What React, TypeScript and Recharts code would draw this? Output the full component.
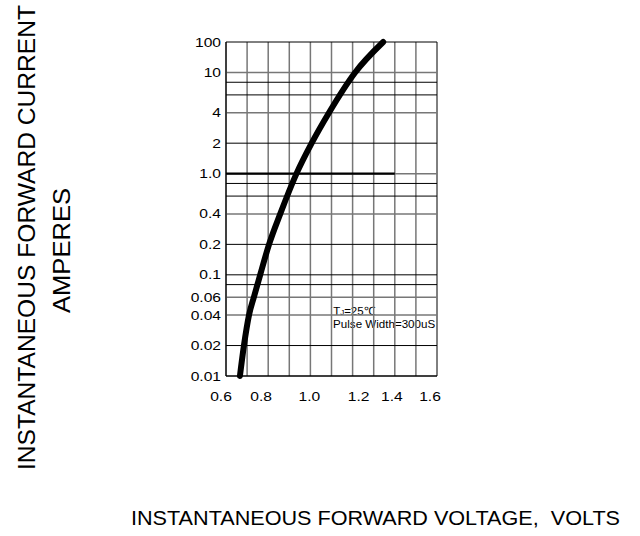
import React from 'react';
import { LineChart, Line, XAxis, YAxis, ReferenceLine, ReferenceArea } from 'recharts';

// Forward characteristic (V, A)
const voltage = [0.666, 0.685, 0.709, 0.732, 0.762, 0.804, 0.857, 0.934, 1.006, 1.088, 1.212, 1.345];
const current = [0.01, 0.02, 0.04, 0.06, 0.1, 0.2, 0.4, 1, 2, 4, 10, 20];

const xTicks = [0.6, 0.8, 1.0, 1.2, 1.4, 1.6];
const xGrid = [0.6, 0.7, 0.8, 0.9, 1.0, 1.1, 1.2, 1.3, 1.4, 1.5, 1.6];
const yTicks = [0.01, 0.02, 0.04, 0.06, 0.1, 0.2, 0.4, 1, 2, 4, 10, 20];
const yTickLabels = ['0.01', '0.02', '0.04', '0.06', '0.1', '0.2', '0.4', '1.0', '2', '4', '10', '100'];
const yGrid = [0.01, 0.02, 0.04, 0.06, 0.08, 0.1, 0.2, 0.4, 0.6, 0.8, 1, 2, 4, 6, 8, 10, 20];
const yGridGray = [10, 4, 1, 0.4, 0.06, 0.04];

const data = voltage.map((v, i) => ({ v, i: current[i] }));

const FONT = 'Liberation Sans, Arial, sans-serif';

// small visual nudges of the x tick labels as printed in the original sheet
const xLabelNudge: Record<string, number> = { '0.6': -5, '0.8': -7, '1.0': -1, '1.2': 6, '1.4': -3, '1.6': -7 };

const XTick = (props: any) => {
  const { x, y, payload } = props;
  const label = Number(payload.value).toFixed(1);
  return (
    <text
      transform={`translate(${x + (xLabelNudge[label] || 0)},${y}) scale(1.25,1)`}
      dy="0.71em"
      textAnchor="middle"
      fontFamily={FONT}
      fontSize={12.5}
      fill="#000"
    >
      {label}
    </text>
  );
};

const YTick = (props: any) => {
  const { x, y, payload } = props;
  const idx = yTicks.indexOf(payload.value);
  const label = idx >= 0 ? yTickLabels[idx] : String(payload.value);
  return (
    <text
      transform={`translate(${x},${y}) scale(1.25,1)`}
      dy="0.36em"
      textAnchor="end"
      fontFamily={FONT}
      fontSize={12.5}
      fill="#000"
    >
      {label}
    </text>
  );
};

const renderBoxText = (props: any) => {
  const vb = props.viewBox || {};
  return (
    <g>
      <text x={vb.x + 1} y={vb.y + 10} fontFamily={FONT} fontSize={11.5} fill="#000">
        <tspan>T</tspan>
        <tspan fontSize={8}>J</tspan>
        <tspan>=25℃</tspan>
      </text>
      <text x={vb.x + 1} y={vb.y + 23} fontFamily={FONT} fontSize={11.5} fill="#000" textLength={102} lengthAdjust="spacingAndGlyphs">
        Pulse Width=300uS
      </text>
    </g>
  );
};

export default function App() {
  return (
    <div style={{ position: 'absolute', left: 0, top: 0, width: 640, height: 536, background: '#fff' }}>
      <LineChart width={640} height={536} data={data} margin={{ top: 42, right: 203, bottom: 130, left: 166 }}>
        <XAxis
          type="number"
          dataKey="v"
          domain={[0.6, 1.6]}
          ticks={xTicks}
          interval={0}
          tickLine={false}
          tickSize={0}
          tickMargin={16}
          height={30}
          axisLine={{ stroke: '#000', strokeWidth: 1 }}
          tick={<XTick />}
        />
        <YAxis
          type="number"
          dataKey="i"
          scale="log"
          domain={[0.01, 20]}
          ticks={yTicks}
          interval={0}
          width={60}
          tickLine={false}
          tickSize={0}
          tickMargin={5}
          axisLine={{ stroke: '#000', strokeWidth: 1 }}
          tick={<YTick />}
        />
        {xGrid.map((v) => (
          <ReferenceLine key={'vx' + v} x={v} stroke={v === 0.6 || v === 1.6 ? '#000' : '#777'} strokeWidth={v === 0.6 || v === 1.6 ? 1 : 1.5} />
        ))}
        {yGrid.map((v) => (
          <ReferenceLine key={'hy' + v} y={v} stroke={yGridGray.includes(v) ? '#777' : '#000'} strokeWidth={yGridGray.includes(v) ? 1.5 : 1} />
        ))}
        <ReferenceLine segment={[{ x: 0.6, y: 1 }, { x: 1.4, y: 1 }]} stroke="#000" strokeWidth={2.2} />
        <ReferenceArea x1={1.103} x2={1.597} y1={0.021} y2={0.05} fill="#fff" fillOpacity={1} stroke="none" label={renderBoxText} />
        <Line
          type="monotone"
          dataKey="i"
          stroke="#000"
          strokeWidth={6}
          strokeLinecap="round"
          dot={false}
          activeDot={false}
          isAnimationActive={false}
        />
      </LineChart>
      <svg width={640} height={536} style={{ position: 'absolute', left: 0, top: 0, pointerEvents: 'none' }}>
        <text
          x={375.5}
          y={525}
          textAnchor="middle"
          fontFamily={FONT}
          fontSize={21}
          fill="#000"
          textLength={489}
          lengthAdjust="spacingAndGlyphs"
          style={{ whiteSpace: 'pre' }}
        >
          {'INSTANTANEOUS FORWARD VOLTAGE,  VOLTS'}
        </text>
        <text
          transform="translate(35,237.5) rotate(-90)"
          textAnchor="middle"
          fontFamily={FONT}
          fontSize={24}
          fill="#000"
          textLength={465}
          lengthAdjust="spacingAndGlyphs"
        >
          INSTANTANEOUS FORWARD CURRENT
        </text>
        <text
          transform="translate(70,250.5) rotate(-90)"
          textAnchor="middle"
          fontFamily={FONT}
          fontSize={24}
          fill="#000"
          textLength={125}
          lengthAdjust="spacingAndGlyphs"
        >
          AMPERES
        </text>
      </svg>
    </div>
  );
}
